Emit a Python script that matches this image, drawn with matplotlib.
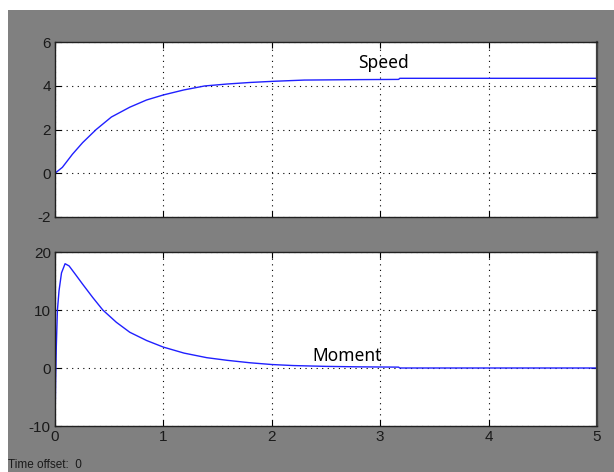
import matplotlib
matplotlib.use('Agg')
import matplotlib.pyplot as plt
from matplotlib.patches import Rectangle

plt.rcParams['axes.unicode_minus'] = False

# values
speed_t = [0.0, 0.068, 0.161, 0.255, 0.38, 0.52, 0.69, 0.845, 1.0, 1.19,
           1.38, 1.59, 1.8, 2.0, 2.3, 2.8, 3.17, 3.18, 5.0]
speed_v = [0.0, 0.27, 0.87, 1.4, 2.0, 2.57, 3.02, 3.35, 3.58, 3.81,
           3.99, 4.08, 4.15, 4.2, 4.26, 4.28, 4.29, 4.34, 4.34]

moment_t = [0.0, 0.0, 0.006, 0.012, 0.022, 0.037, 0.06, 0.093, 0.13, 0.19,
            0.255, 0.348, 0.441, 0.566, 0.69, 0.845, 1.0, 1.19, 1.4, 1.59,
            1.8, 2.0, 2.2, 2.5, 2.8, 3.17, 3.18, 5.0]
moment_v = [-12.0, -10.0, -2.0, 3.6, 9.9, 13.3, 16.4, 17.98, 17.6, 16.1,
            14.45, 12.16, 10.0, 7.88, 6.16, 4.74, 3.6, 2.57, 1.78, 1.32,
            0.9, 0.6, 0.42, 0.28, 0.2, 0.15, 0.0, 0.0]

xticks = [0, 1, 2, 3, 4, 5]
speed_ticks = [-2, 0, 2, 4, 6]
moment_ticks = [-10, 0, 10, 20]

W, H = 614, 472
fig = plt.figure(figsize=(W / 100, H / 100), dpi=100, facecolor='white')
fig.patches.append(Rectangle((8 / W, 0), 1, 1 - 10 / H, transform=fig.transFigure,
                             facecolor='#808080', edgecolor='none', zorder=-10))

left = 55 / W
width = 542 / W
ax1 = fig.add_axes([left, 1 - 217 / H, width, 175 / H])
ax2 = fig.add_axes([left, 1 - 426 / H, width, 174 / H])


def style(ax, yticks):
    ax.set_facecolor('white')
    ax.set_xlim(0, 5)
    ax.set_ylim(yticks[0], yticks[-1])
    ax.set_xticks(xticks)
    ax.set_yticks(yticks)
    ax.grid(True, color='black', linestyle=(0, (1, 4)), linewidth=0.8)
    ax.tick_params(direction='in', length=4, width=0.8, top=True, right=True,
                   labelsize=11, labelcolor='#1a1a1a', pad=3)
    for lab in ax.get_xticklabels() + ax.get_yticklabels():
        lab.set_fontfamily('Liberation Sans')
    for s in ax.spines.values():
        s.set_color('#202020')
        s.set_linewidth(1.0)
    ax.spines['right'].set_color('#404040')
    ax.spines['right'].set_linewidth(1.6)


style(ax1, speed_ticks)
style(ax2, moment_ticks)
ax1.tick_params(labelbottom=False)

ax1.plot(speed_t, speed_v, color='#2020ff', linewidth=1.0)
ax2.plot(moment_t, moment_v, color='#2020ff', linewidth=1.0)

ax1.text(3.03, 5.05, 'Speed', ha='center', va='center', fontsize=12.5,
         family='Noto Sans', color='black')
ax2.text(2.69, 2.1, 'Moment', ha='center', va='center', fontsize=12.5,
         family='Noto Sans', color='black')

fig.text(8 / W, 1 - 465 / H, 'Time offset:  0', ha='left', va='center',
         fontsize=8.5, family='Liberation Sans', color='#1a1a1a')

fig.savefig('out.png', dpi=100, facecolor=fig.get_facecolor())
